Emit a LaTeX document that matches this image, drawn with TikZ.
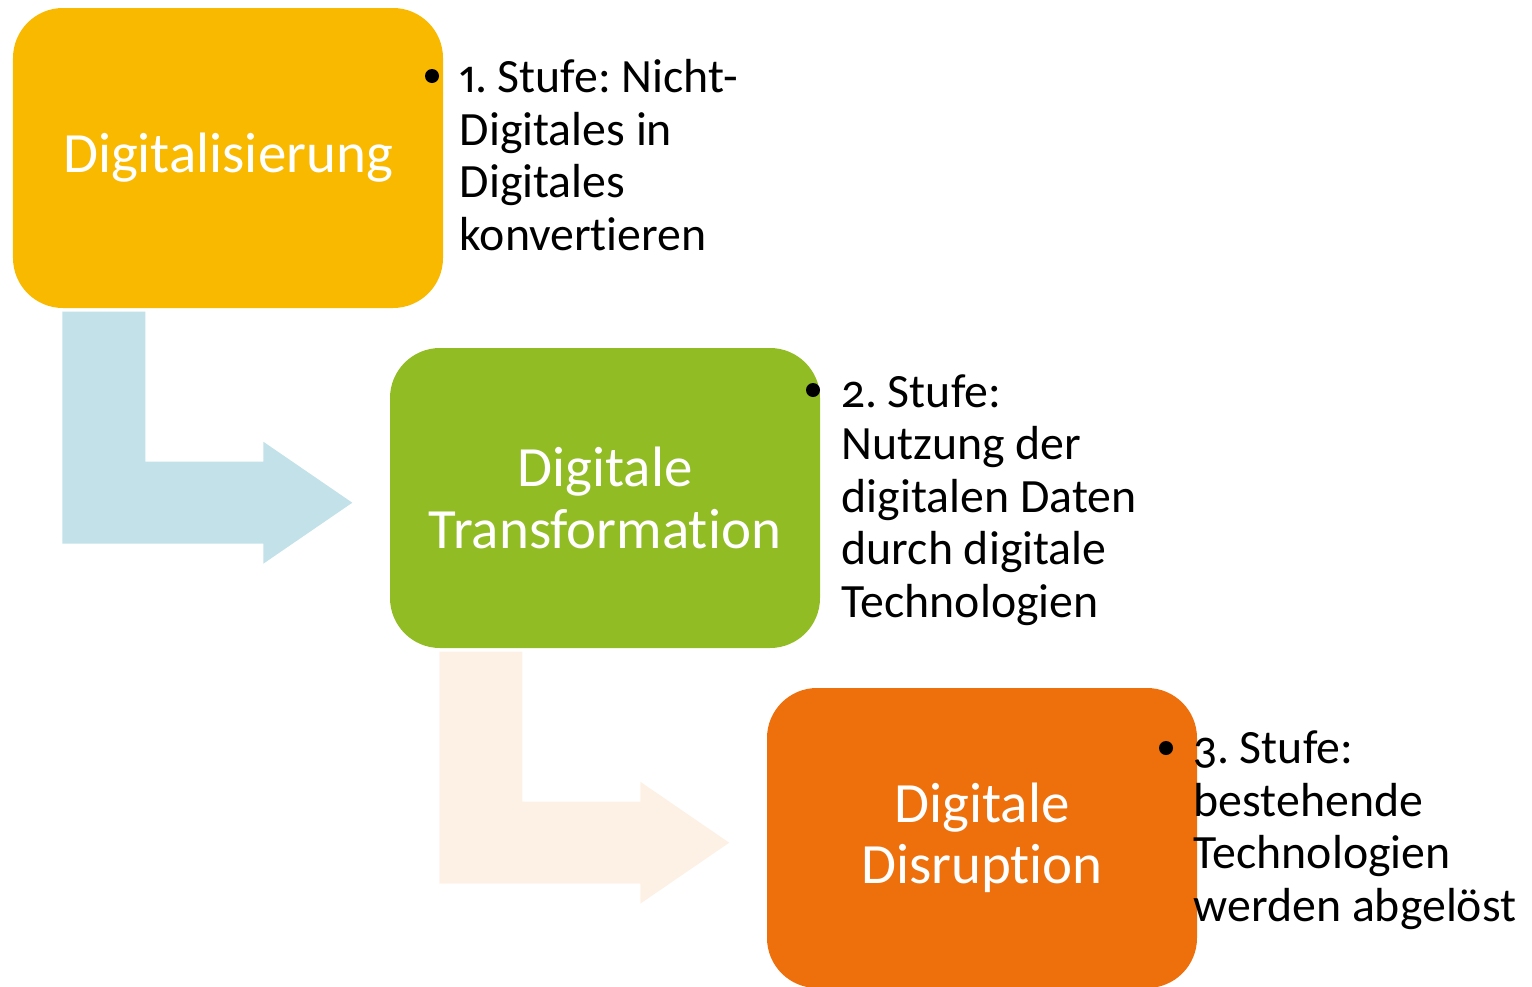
\documentclass[tikz,border=0pt]{standalone}
\usepackage{fontspec}
\setmainfont{Carlito}[Numbers={OldStyle,Proportional}, RawFeature={-liga;-clig;-calt;-dlig}]
\frenchspacing
\definecolor{stufegelb}{HTML}{F9B900}
\definecolor{stufegruen}{HTML}{92BC24}
\definecolor{stufeorange}{HTML}{ED700C}
\definecolor{pfeilblau}{HTML}{C2E1E8}
\definecolor{pfeilcreme}{HTML}{FDF1E6}
\begin{document}
\begin{tikzpicture}
\tikzstyle{stufe}=[rounded corners=0.5cm, minimum width=4.3cm, minimum height=3cm, inner sep=0pt, text=white, align=center, font=\fontsize{16.2pt}{17.4pt}\selectfont]
\tikzstyle{erkl}=[anchor=base west, inner sep=0pt, align=left, font=\fontsize{13.6pt}{14.9pt}\selectfont]
\tikzstyle{punkt}=[circle, fill=black, inner sep=0pt, minimum size=0.14cm]
\useasboundingbox (0,0) rectangle (15.32,-9.87);
% Kaesten
\node [stufe, fill=stufegelb] (dig) at (2.28,-1.58) {Digitalisierung};
\node [stufe, fill=stufegruen] (trans) at (6.05,-4.98) {Digitale\\Transformation};
\node [stufe, fill=stufeorange] (disr) at (9.82,-8.38) {Digitale\\Disruption};
% Pfeile
\fill [pfeilblau] ([xshift=0.5cm,yshift=-0.03cm]dig.south west) -- ++(0.83,0) -- ++(0,-1.5) -- ++(1.18,0) -- ++(0,0.2) -- ++(0.89,-0.61) -- ++(-0.89,-0.61) -- ++(0,0.2) -- ++(-2.01,0) -- cycle;
\fill [pfeilcreme] ([xshift=0.5cm,yshift=-0.03cm]trans.south west) -- ++(0.83,0) -- ++(0,-1.5) -- ++(1.18,0) -- ++(0,0.2) -- ++(0.89,-0.61) -- ++(-0.89,-0.61) -- ++(0,0.2) -- ++(-2.01,0) -- cycle;
% Stufen (base = letzte Zeile)
\node [punkt] (p1) at (4.32,-0.76) {};
\node [erkl] (s1) at (4.59,-2.50) {1. Stufe: Nicht-\\Digitales in\\Digitales\\konvertieren};
\node [punkt] (p2) at (8.13,-3.90) {};
\node [erkl] (s2) at (8.41,-6.17) {2. Stufe:\\Nutzung der\\digitalen Daten\\durch digitale\\Technologien};
\node [punkt] (p3) at (11.66,-7.48) {};
\node [erkl] (s3) at (11.93,-9.21) {3. Stufe:\\bestehende\\Technologien\\werden abgelöst};
\end{tikzpicture}
\end{document}
